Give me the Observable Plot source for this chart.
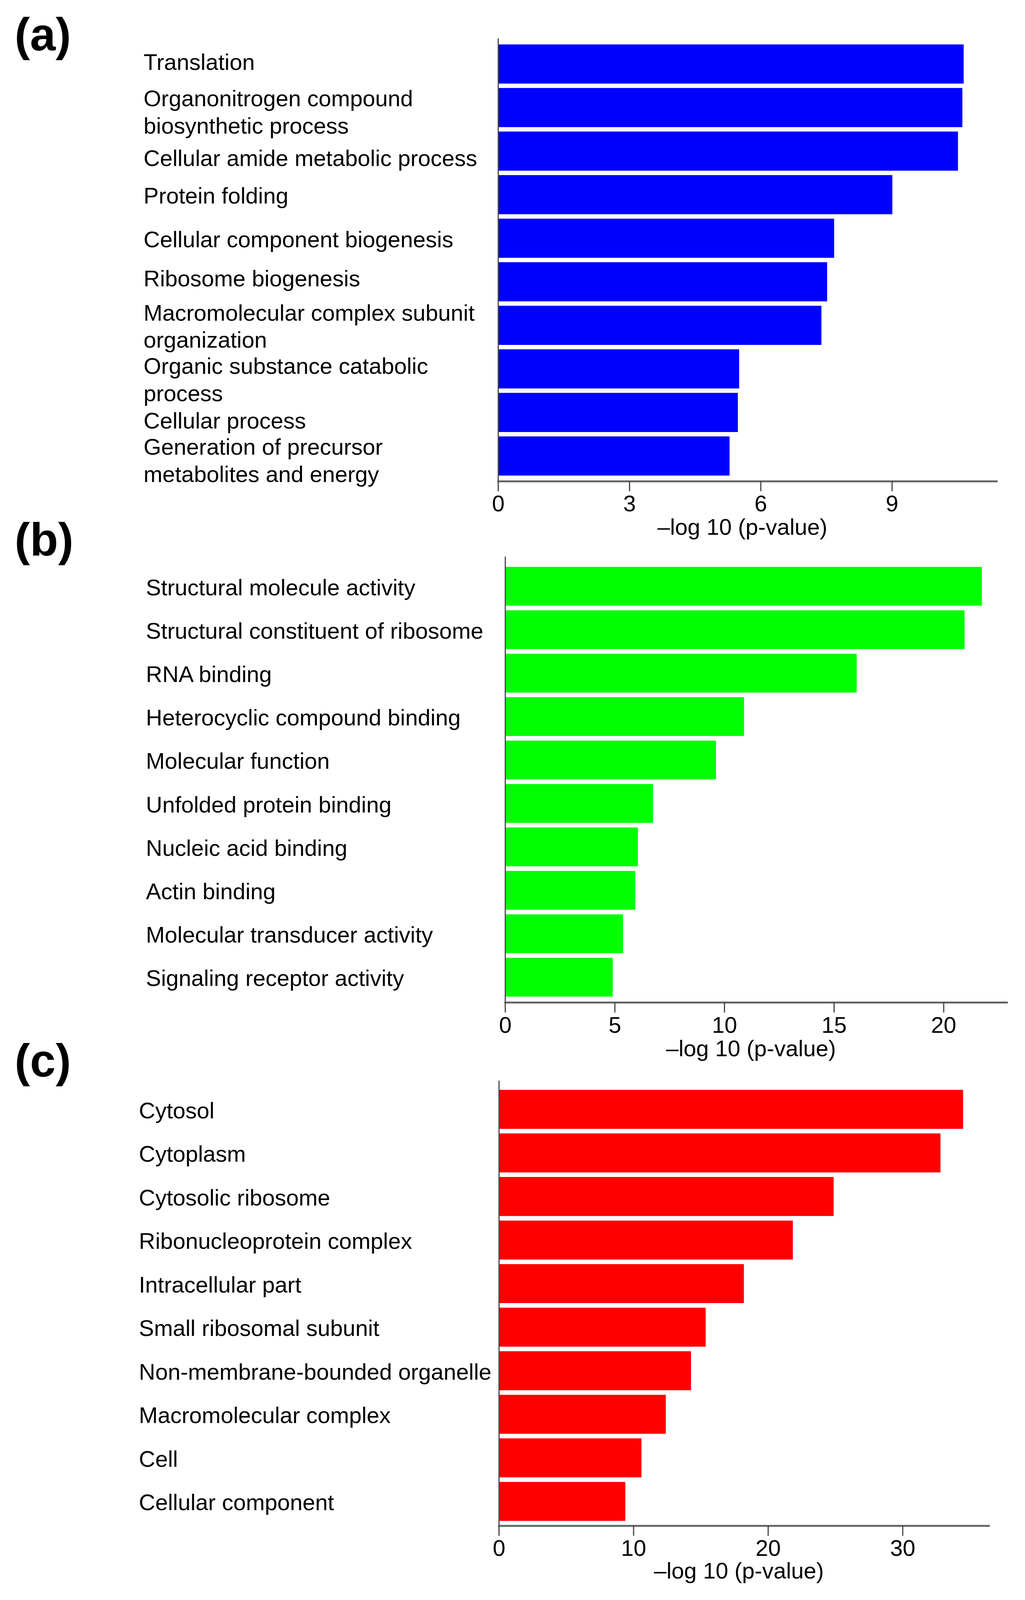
<!DOCTYPE html>
<html>
<head>
<meta charset="utf-8">
<script src="https://cdn.jsdelivr.net/npm/d3@7"></script>
<script src="https://cdn.jsdelivr.net/npm/@observablehq/plot@0.6"></script>
<style>
  html, body { margin: 0; padding: 0; background: #fff; overflow: hidden; }
  #chart svg { display: block; overflow: visible; }
</style>
</head>
<body>
<div id="chart"></div>
<script>
// ---- Data ----
const xTitle = "–log 10 (p-value)";

const bpTerms = [
  "Translation",
  "Organonitrogen compound\nbiosynthetic process",
  "Cellular amide metabolic process",
  "Protein folding",
  "Cellular component biogenesis",
  "Ribosome biogenesis",
  "Macromolecular complex subunit\norganization",
  "Organic substance catabolic\nprocess",
  "Cellular process",
  "Generation of precursor\nmetabolites and energy"
];
const bpValues = [10.64, 10.61, 10.51, 9.01, 7.68, 7.52, 7.39, 5.51, 5.48, 5.29];
const bpTicks = [0, 3, 6, 9];

const mfTerms = [
  "Structural molecule activity",
  "Structural constituent of ribosome",
  "RNA binding",
  "Heterocyclic compound binding",
  "Molecular function",
  "Unfolded protein binding",
  "Nucleic acid binding",
  "Actin binding",
  "Molecular transducer activity",
  "Signaling receptor activity"
];
const mfValues = [21.75, 20.96, 16.04, 10.90, 9.62, 6.75, 6.06, 5.94, 5.38, 4.91];
const mfTicks = [0, 5, 10, 15, 20];

const ccTerms = [
  "Cytosol",
  "Cytoplasm",
  "Cytosolic ribosome",
  "Ribonucleoprotein complex",
  "Intracellular part",
  "Small ribosomal subunit",
  "Non-membrane-bounded organelle",
  "Macromolecular complex",
  "Cell",
  "Cellular component"
];
const ccValues = [34.50, 32.82, 24.88, 21.85, 18.21, 15.37, 14.28, 12.41, 10.60, 9.40];
const ccTicks = [0, 10, 20, 30];

// ---- Layout (vertical values fit to the visible page height) ----
const PAGE_H = 4250;
const viewH = window.innerHeight || document.documentElement.clientHeight || PAGE_H;
const f = Math.min(1, viewH / PAGE_H);
const FONT = "'Liberation Sans', Arial, Helvetica, sans-serif";

function panel(o) {
  const data = o.terms.map((t, i) => ({term: t, value: o.values[i]}));
  const height = o.height * f;
  const marginTop = (o.yAxisTop - o.top) * f;
  const marginBottom = (o.top + o.height - o.xAxisY) * f;
  const nudge = o.nudge || {};
  const groups = d3.group(data, d => nudge[d.term] || 0);
  const labelMarks = Array.from(groups, ([dy, rows]) =>
    Plot.text(rows, {
      y: "term", text: "term", frameAnchor: "left",
      dx: o.labelX - o.marginLeft, dy: dy * f,
      textAnchor: "start", lineAnchor: "middle",
      lineHeight: 1.2, fontSize: 58, fill: "#000"
    })
  );
  return Plot.plot({
    width: 2624,
    height,
    marginTop,
    marginBottom,
    marginLeft: o.marginLeft,
    marginRight: o.marginRight,
    style: {fontFamily: FONT, background: "transparent", overflow: "visible"},
    x: {domain: [0, o.xMax]},
    y: {domain: o.terms, axis: null, paddingInner: o.padInner, paddingOuter: o.padOuter, align: o.align, round: false},
    marks: [
      Plot.barX(data, {x: "value", y: "term", fill: o.color}),
      Plot.ruleX([0], {stroke: "#4a4a4a", strokeWidth: 3}),
      Plot.frame({anchor: "bottom", stroke: "#666", strokeWidth: 5}),
      Plot.axisX({ticks: o.ticks, tickSize: 26, tickPadding: 10, fontSize: 58, stroke: "#444", strokeWidth: 3, fill: "#000", label: null}),
      ...labelMarks,
      Plot.text([xTitle], {text: d => d, frameAnchor: "bottom", dy: (o.titleBaseline - o.xAxisY) * f, dx: -13, lineAnchor: "bottom", fontSize: 58, fill: "#000"}),
      Plot.text([o.letter], {
        text: d => d, frameAnchor: "top-left",
        dx: 37 - o.marginLeft, dy: (o.letterBaseline - o.yAxisTop) * f,
        textAnchor: "start", lineAnchor: "bottom",
        fontSize: 118, fontWeight: "bold", fill: "#000"
      })
    ]
  });
}

const chart = document.getElementById("chart");
chart.style.background = "#fff";

chart.append(panel({
  letter: "(a)", terms: bpTerms, values: bpValues, ticks: bpTicks, color: "#0000ff",
  top: 0, height: 1450, yAxisTop: 102, xAxisY: 1278, letterBaseline: 133, titleBaseline: 1420,
  marginLeft: 1275, marginRight: 73,
  xMax: 11.39, padInner: 0.101, padOuter: 0.133, align: 0.52,
  labelX: 367,
  nudge: {
    "Translation": -8,
    "Organonitrogen compound\nbiosynthetic process": 9,
    "Cellular amide metabolic process": 16,
    "Ribosome biogenesis": -12,
    "Organic substance catabolic\nprocess": 26,
    "Cellular process": 19,
    "Generation of precursor\nmetabolites and energy": 9
  }
}));

chart.append(panel({
  letter: "(b)", terms: mfTerms, values: mfValues, ticks: mfTicks, color: "#00ff00",
  top: 1450, height: 1380, yAxisTop: 1479, xAxisY: 2663, letterBaseline: 1475, titleBaseline: 2806,
  marginLeft: 1293, marginRight: 47,
  xMax: 22.88, padInner: 0.107, padOuter: 0.184, align: 0.64,
  labelX: 373
}));

chart.append(panel({
  letter: "(c)", terms: ccTerms, values: ccValues, ticks: ccTicks, color: "#ff0000",
  top: 2830, height: 1420, yAxisTop: 2871, xAxisY: 4053, letterBaseline: 2860, titleBaseline: 4193,
  marginLeft: 1277, marginRight: 93,
  xMax: 36.4, padInner: 0.105, padOuter: 0.16, align: 0.66,
  labelX: 355
}));
</script>
</body>
</html>
